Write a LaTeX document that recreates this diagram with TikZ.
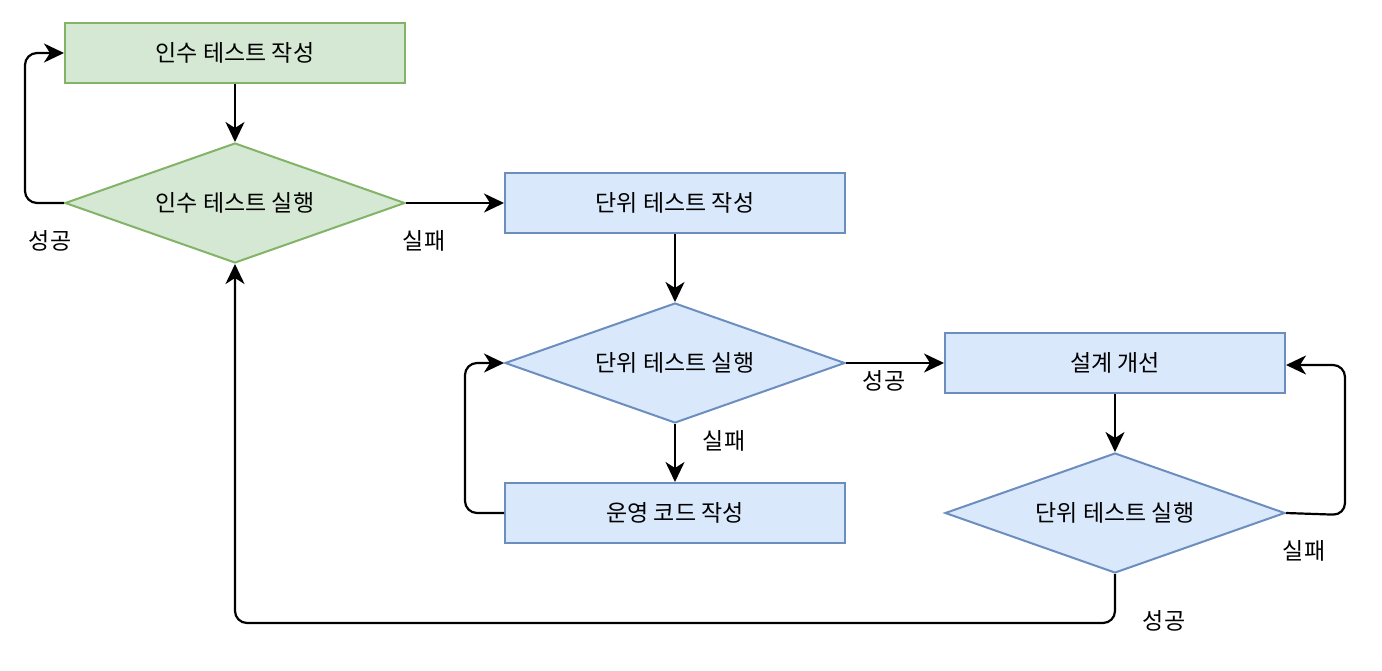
\documentclass[tikz,border=0pt]{standalone}
\usepackage{fontspec}
\setmainfont{Noto Sans CJK KR}
\usetikzlibrary{arrows.meta,shapes.geometric}
\definecolor{gfill}{HTML}{D5E8D4}
\definecolor{gdraw}{HTML}{82B366}
\definecolor{bfill}{HTML}{DAE8FC}
\definecolor{bdraw}{HTML}{6C8EBF}
\tikzset{
  txt/.style={font=\fontsize{23pt}{27pt}\selectfont},
  box/.style={rectangle, minimum width=340pt, minimum height=60pt, inner sep=0pt, line width=2pt, txt},
  dia/.style={diamond, aspect=2.8333, minimum width=340pt, minimum height=120pt, inner sep=0pt, line width=2pt, txt},
  green/.style={fill=gfill, draw=gdraw},
  blue/.style={fill=bfill, draw=bdraw},
  conn/.style={draw=black, line width=2.2pt, rounded corners=12pt, -{Stealth[length=20pt,width=19pt,inset=6pt]}},
  lbl/.style={txt, inner sep=0pt}
}
\begin{document}
\begin{tikzpicture}[x=1pt,y=-1pt]
\useasboundingbox (0,0) rectangle (1382,670);
\node[box,green] (b1) at (235,53) {인수 테스트 작성};
\node[dia,green] (d1) at (235,203) {인수 테스트 실행};
\node[box,blue] (b2) at (675,203) {단위 테스트 작성};
\node[dia,blue] (d2) at (675,363) {단위 테스트 실행};
\node[box,blue] (b3) at (675,513) {운영 코드 작성};
\node[box,blue] (b4) at (1115,363) {설계 개선};
\node[dia,blue] (d3) at (1115,513) {단위 테스트 실행};

\draw[conn] (b1.south) -- (d1.north);
\draw[conn] (d1.west) -- (25,203) -- (25,53) -- (b1.west);
\draw[conn] (d1.east) -- (b2.west);
\draw[conn] (b2.south) -- (d2.north);
\draw[conn] (d2.east) -- (b4.west);
\draw[conn] (d2.south) -- (b3.north);
\draw[conn] (b3.west) -- (465,513) -- (465,363) -- (d2.west);
\draw[conn] (b4.south) -- (d3.north);
\draw[conn] (d3.east) -- (1345,515) -- (1345,365) -- ([yshift=-2pt]b4.east);
\draw[conn] (d3.south) -- (1115,623) -- (235,623) -- (d1.south);

\node[lbl] (l1) at (50,241) {성공};
\node[lbl] (l2) at (424,241) {실패};
\node[lbl] (l3) at (884,381) {성공};
\node[lbl] (l4) at (724,441) {실패};
\node[lbl] (l5) at (1304,551) {실패};
\node[lbl] (l6) at (1164,621) {성공};
\end{tikzpicture}
\end{document}
